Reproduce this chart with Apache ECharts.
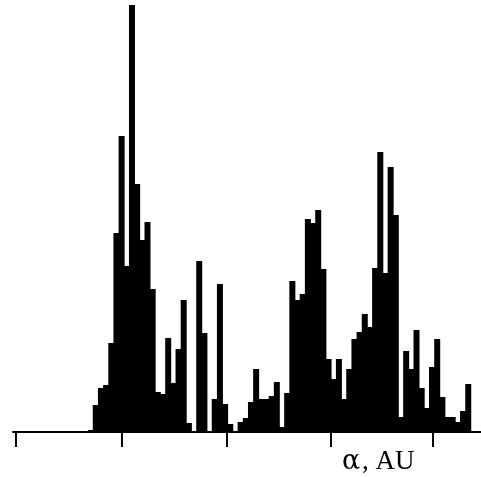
<!DOCTYPE html>
<html>
<head>
<meta charset="utf-8">
<script src="https://cdn.jsdelivr.net/npm/echarts@6/dist/echarts.min.js"></script>
<style>
  html, body { margin: 0; background: #fff; }
  #chart { width: 481px; height: 477px; }
</style>
</head>
<body>
<div id="chart"></div>
<script>
// bin heights, left to right (arbitrary units)
const counts = [
  2, 27, 44, 47, 89, 199, 296, 166, 427, 248,
  192, 210, 143, 40, 38, 94, 49, 83, 132, 9,
  1, 171, 99, 1, 33, 148, 28, 8, 1, 10,
  14, 30, 63, 33, 33, 36, 50, 5, 39, 151,
  132, 138, 213, 209, 222, 163, 73, 53, 73, 33,
  63, 93, 100, 118, 105, 164, 280, 159, 265, 217,
  15, 81, 63, 102, 44, 24, 65, 93, 35, 15,
  15, 10, 21, 48, 1
]
// unlabelled ticks on the alpha axis (spacing in the scan is a little uneven)
const alphaTicks = [0, 1.01, 2.02, 3.02, 4]
const axisSymbol = 'α'
const axisUnit = ', AU'

const chart = echarts.init(document.getElementById('chart'))

chart.setOption({
  animation: false,
  backgroundColor: '#fff',
  grid: [
    { left: 88, right: 5, top: 0, bottom: 45 },  // histogram
    { left: 13, right: 0, top: 0, bottom: 45 },  // alpha axis
  ],
  xAxis: [
    { gridIndex: 0, type: 'category', show: false },
    {
      gridIndex: 1,
      type: 'value',
      min: -0.03,
      max: 4.46,
      offset: 3,
      axisLine: { lineStyle: { color: '#000', width: 2 } },
      axisTick: {
        show: true,
        length: 15,
        customValues: alphaTicks,
        lineStyle: { color: '#000', width: 2 },
      },
      axisLabel: { show: false },
      splitLine: { show: false },
    },
  ],
  yAxis: [
    { gridIndex: 0, type: 'value', min: 0, max: 432, show: false },
    { gridIndex: 1, type: 'value', min: 0, max: 1, show: false },
  ],
  series: [{
    type: 'bar',
    xAxisIndex: 0,
    yAxisIndex: 0,
    data: counts,
    // a bit wider than the band so neighbours overlap and no seams show
    barWidth: '116%',
    barGap: '-100%',
    itemStyle: { color: '#000' },
  }],
  graphic: [{
    type: 'text',
    left: 342,
    top: 448,
    style: {
      text: '{a|' + axisSymbol + '}{b|' + axisUnit + '}',
      fill: '#000',
      rich: {
        a: { font: '27px "DejaVu Serif"', width: 20, fill: '#000' },
        b: { font: '27px "Liberation Serif"', fill: '#000' },
      },
    },
  }],
})
</script>
</body>
</html>
